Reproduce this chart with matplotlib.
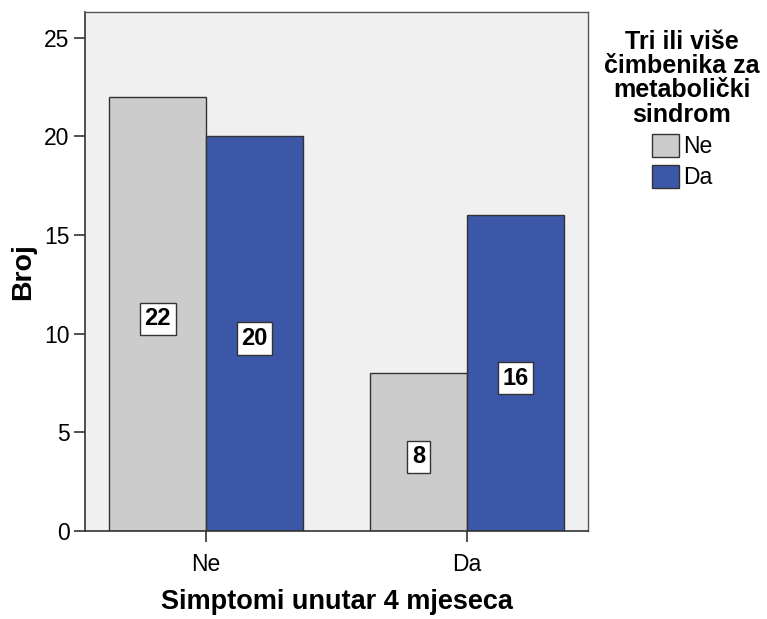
import matplotlib
matplotlib.use("Agg")
import matplotlib.pyplot as plt
import numpy as np
from matplotlib.patches import Patch

categories = ["Ne", "Da"]
series_names = ["Ne", "Da"]
values_ne = [22, 8]
values_da = [20, 16]
yticks = [0, 5, 10, 15, 20, 25]

plt.rcParams['font.family'] = ['Liberation Sans', 'DejaVu Sans']

fig = plt.figure(figsize=(7.67, 6.19), dpi=100)
ax = fig.add_axes([85/767, 88/619, (588-85)/767, (531-12)/619])
ax.set_facecolor("#f0f0f0")

x = np.arange(len(categories))
w = 0.372
c_gray = "#cccccc"
c_blue = "#3c56a8"
b1 = ax.bar(x - w/2, values_ne, w, color=c_gray, edgecolor="#333333", linewidth=1.0, zorder=2)
b2 = ax.bar(x + w/2, values_da, w, color=c_blue, edgecolor="#333333", linewidth=1.0, zorder=2)

for bars, vals in ((b1, values_ne), (b2, values_da)):
    for rect, v in zip(bars, vals):
        ax.text(rect.get_x() + rect.get_width()/2, v/2 - 0.25, str(v),
                ha="center", va="center", fontsize=17, fontweight="bold",
                bbox=dict(boxstyle="square,pad=0.2", facecolor="white", edgecolor="#333333", linewidth=1.0),
                zorder=3)

ax.set_xlim(-0.464, 1.464)
ax.set_ylim(0, 26.3)
ax.set_xticks(x)
ax.set_xticklabels(categories, fontsize=16.5)
ax.set_yticks(yticks)
ax.set_yticklabels([str(t) for t in yticks], fontsize=16.5)
ax.tick_params(axis="both", length=8, width=1.2, color="#333333", pad=3)
ax.tick_params(axis="x", pad=8)
for s in ("left", "bottom"):
    ax.spines[s].set_color("#333333")
    ax.spines[s].set_linewidth(1.2)
for s in ("top", "right"):
    ax.spines[s].set_color("#555555")
    ax.spines[s].set_linewidth(1.0)

ax.set_ylabel("Broj", fontsize=20.5, fontweight="bold")
ax.yaxis.set_label_coords(-0.097, 0.50)
ax.set_xlabel("Simptomi unutar 4 mjeseca", fontsize=19.5, fontweight="bold", labelpad=9)

handles = [Patch(facecolor=c_gray, edgecolor="#333333"), Patch(facecolor=c_blue, edgecolor="#333333")]
leg = fig.legend(handles, series_names, title="Tri ili više\nčimbenika za\nmetabolički\nsindrom",
                 loc="upper center", bbox_to_anchor=(682/767, 1 - 9/619), frameon=False,
                 fontsize=16.5, title_fontproperties={"weight": "bold", "size": 18},
                 handlelength=1.2, handleheight=1.2, handletextpad=0.15, labelspacing=0.3)
leg._legend_box.align = "center"
leg.get_title().set_multialignment("center")
leg.get_title().set_linespacing(1.02)

fig.savefig("out.png", dpi=100)
